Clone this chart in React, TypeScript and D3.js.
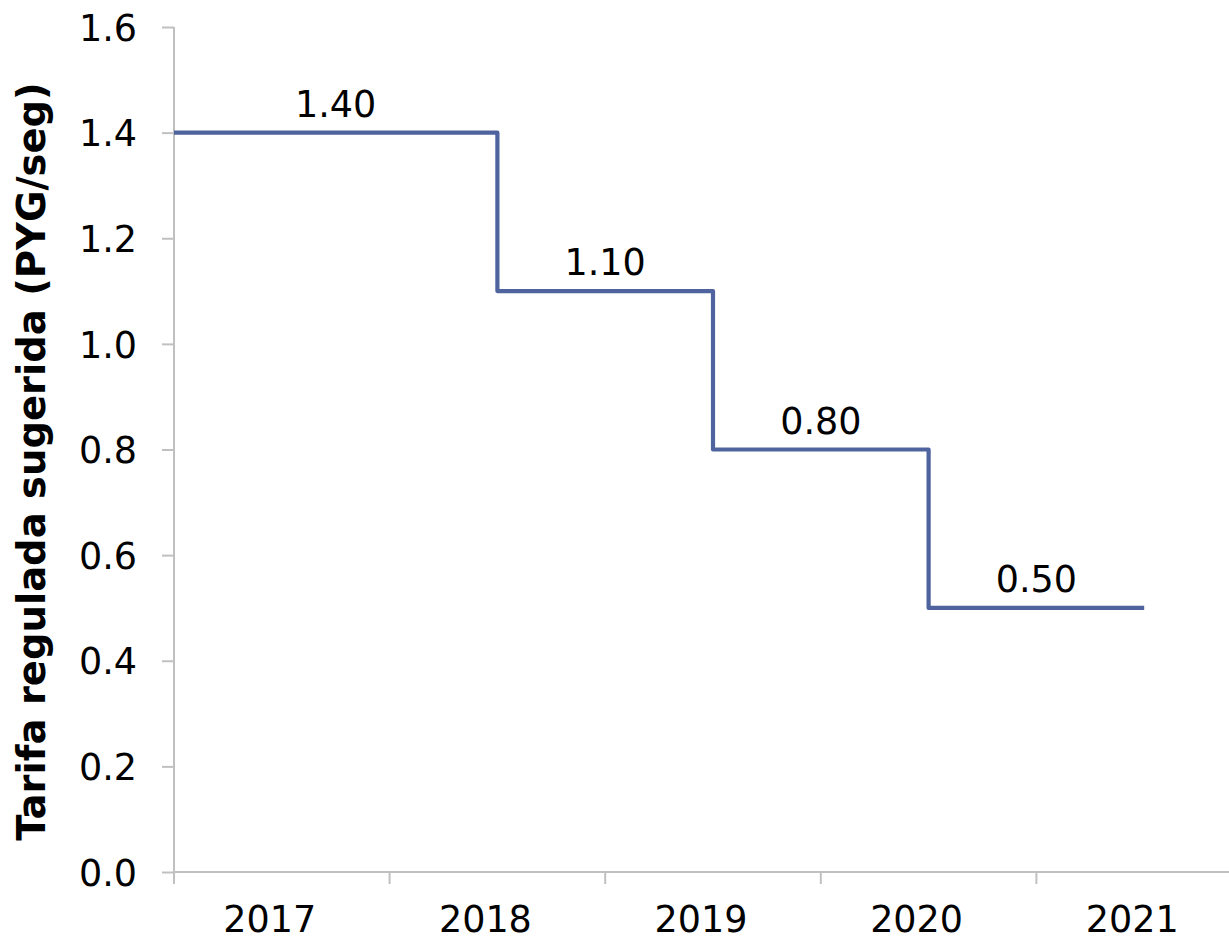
import React, { useEffect, useRef } from "react";
import * as d3 from "d3";

// Regulated tariff per period (PYG/seg)
const years = ["2017", "2018", "2019", "2020", "2021"];
const tariffs = [1.4, 1.1, 0.8, 0.5];
// Start / end of each tariff level, in year units (year i spans [i, i+1])
const levelStart = [0, 1.5, 2.5, 3.5];
const levelEnd = [1.5, 2.5, 3.5, 4.5];
const yTicks = [0, 0.2, 0.4, 0.6, 0.8, 1.0, 1.2, 1.4, 1.6];

const WIDTH = 1229;
const HEIGHT = 937;
const FONT = "'DejaVu Sans', Verdana, sans-serif";
const AXIS_COLOR = "#c0c0c0";
const LINE_COLOR = "#4f649e";

export default function App() {
  const ref = useRef<SVGSVGElement | null>(null);

  useEffect(() => {
    const svg = d3.select(ref.current);
    svg.selectAll("*").remove();

    const left = 174;
    const bottom = 872;
    const top = 27;
    const band = 215.6;

    const x = d3.scaleLinear().domain([0, years.length]).range([left, left + band * years.length]);
    const y = d3.scaleLinear().domain([0, 1.6]).range([bottom, top]);

    // Y axis
    const yAxis = d3
      .axisLeft(y)
      .tickValues(yTicks)
      .tickSize(12)
      .tickPadding(25)
      .tickFormat((d) => d3.format(".1f")(d as number));
    const gy = svg.append("g").attr("transform", `translate(${left},0)`).call(yAxis);
    gy.select(".domain").remove();
    gy.selectAll(".tick line").attr("stroke", AXIS_COLOR).attr("stroke-width", 2);
    gy.selectAll(".tick text")
      .attr("font-family", FONT)
      .attr("font-size", 36.5)
      .attr("fill", "#000")
      .attr("dy", "0.36em");
    svg
      .append("line")
      .attr("x1", left)
      .attr("x2", left)
      .attr("y1", y(1.6))
      .attr("y2", bottom + 12)
      .attr("stroke", AXIS_COLOR)
      .attr("stroke-width", 2);

    // X axis: ticks on the year boundaries, labels in the middle of each year
    const gx = svg.append("g").attr("transform", `translate(0,${bottom})`);
    gx.append("line")
      .attr("x1", left)
      .attr("x2", x(years.length))
      .attr("stroke", AXIS_COLOR)
      .attr("stroke-width", 2);
    gx.selectAll("line.tick")
      .data(d3.range(1, years.length + 1))
      .join("line")
      .attr("class", "tick")
      .attr("x1", (d) => x(d))
      .attr("x2", (d) => x(d))
      .attr("y1", 0)
      .attr("y2", 12)
      .attr("stroke", AXIS_COLOR)
      .attr("stroke-width", 2);
    gx.selectAll("text")
      .data(years)
      .join("text")
      .attr("x", (_, i) => x(i + 0.5) - 12)
      .attr("y", 60)
      .attr("text-anchor", "middle")
      .attr("font-family", FONT)
      .attr("font-size", 36.5)
      .attr("fill", "#000")
      .text((d) => d);

    // Y axis title
    svg
      .append("text")
      .attr("transform", `translate(45,${(top + bottom) / 2 + 12}) rotate(-90)`)
      .attr("text-anchor", "middle")
      .attr("font-family", FONT)
      .attr("font-size", 38.5)
      .attr("font-weight", "bold")
      .attr("fill", "#000")
      .text("Tarifa regulada sugerida (PYG/seg)");

    // Step line
    const pts: [number, number][] = tariffs.map((t, i) => [levelStart[i], t]);
    pts.push([levelEnd[levelEnd.length - 1], tariffs[tariffs.length - 1]]);
    const line = d3
      .line<[number, number]>()
      .x((d) => x(d[0]))
      .y((d) => y(d[1]))
      .curve(d3.curveStepAfter);
    svg
      .append("path")
      .attr("d", line(pts))
      .attr("fill", "none")
      .attr("stroke", LINE_COLOR)
      .attr("stroke-width", 4.2)
      .attr("stroke-linejoin", "round");

    // Value labels above each level
    svg
      .selectAll("text.value")
      .data(tariffs)
      .join("text")
      .attr("class", "value")
      .attr("x", (_, i) => x((levelStart[i] + levelEnd[i]) / 2))
      .attr("y", (d) => y(d) - 16)
      .attr("text-anchor", "middle")
      .attr("font-family", FONT)
      .attr("font-size", 36.5)
      .attr("fill", "#000")
      .text((d) => d3.format(".2f")(d));
  }, []);

  return (
    <svg
      ref={ref}
      width={WIDTH}
      height={HEIGHT}
      style={{ position: "absolute", left: 0, top: 0, background: "#fff" }}
    />
  );
}
